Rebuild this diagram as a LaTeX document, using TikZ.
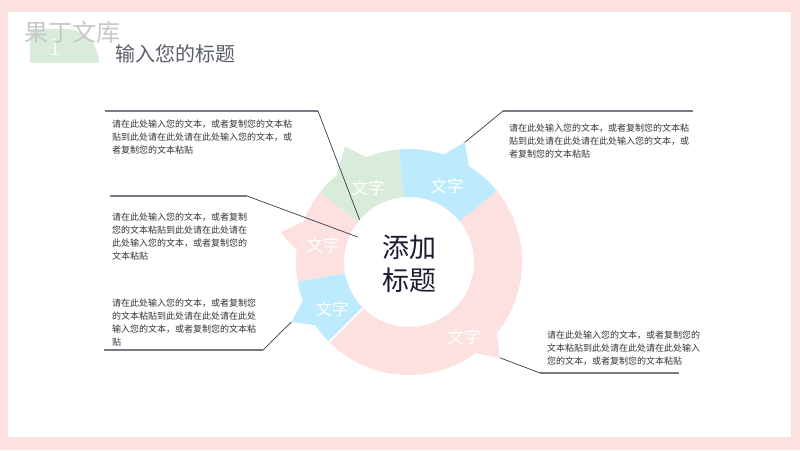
\documentclass[tikz,border=0pt]{standalone}
\usepackage{fontspec}
\newfontfamily\cjk{Noto Sans CJK SC}
\definecolor{framepink}{HTML}{FDE0E0}
\definecolor{segpink}{HTML}{FDE1E1}
\definecolor{segblue}{HTML}{BDEBFD}
\definecolor{seggreen}{HTML}{D9EBDA}
\definecolor{txt}{HTML}{333333}
\definecolor{titlec}{HTML}{5A5F6B}
\definecolor{centerc}{HTML}{1C1C33}
\definecolor{hlinec}{HTML}{7A7A85}
\definecolor{dlinec}{HTML}{3A3A4A}
\definecolor{wmark}{HTML}{C8C8C8}
\newcommand\ringseg[6]{%
  \fill[#1] (#2:65) -- (#2:113) arc[start angle=#2,end angle=#4,radius=113]
    -- (#5:132) -- (#6:113) arc[start angle=#6,end angle=#3,radius=113]
    -- (#3:65) arc[start angle=#3,end angle=#2,radius=65] -- cycle;}
\tikzset{
  desc/.style={font=\cjk\fontsize{9}{13}\selectfont, text=txt, align=left, anchor=north west, inner sep=0pt},
  seglabel/.style={font=\cjk\fontsize{16.5}{18}\selectfont, text=white, inner sep=0pt},
  hline/.style={draw=hlinec, line width=1.1pt},
  dline/.style={draw=dlinec, line width=0.7pt},
}
\begin{document}
\begin{tikzpicture}[x=1pt,y=1pt]
\useasboundingbox (0,0) rectangle (800,450);
\fill[framepink] (0,0) rectangle (800,450);
\fill[white] (8,13) rectangle (791,438);
% header
\fill[seggreen] (30,387) -- (30,421) -- (65,421) arc[start angle=90,end angle=0,radius=34] -- cycle;
\node[text=white, font=\fontsize{26}{28}\selectfont, inner sep=0pt] (num) at (55,403) {1};
\node[text=wmark, font=\cjk\fontsize{24}{26}\selectfont, anchor=west, inner sep=0pt] (wm) at (24,418) {果丁文库};
\node[text=titlec, font=\cjk\fontsize{20}{22}\selectfont, anchor=west, inner sep=0pt] (title) at (115,396) {输入您的标题};
% ring
\begin{scope}[shift={(409,188)}]
  \ringseg{segpink}{-135}{39}{-54}{-46.5}{-39}
  \ringseg{segblue}{39}{95}{58}{65}{72}
  \ringseg{seggreen}{95}{142}{112}{119}{130}
  \ringseg{segpink}{142}{190}{159}{167}{174}
  \ringseg{segblue}{190}{225}{200}{207}{214}
  \draw[white, line width=1.5pt] (225:65) -- (225:114);
  \coordinate (tipBig) at (-46.5:132);
  \coordinate (tipBlueTop) at (65:132);
  \coordinate (tipBlueLeft) at (207:132);
  \coordinate (endGreen) at (139.5:65);
  \coordinate (endPink) at (154:57);
\end{scope}
\node[font=\cjk\fontsize{27}{32.5}\selectfont, text=centerc, align=center, inner sep=0pt] (center) at (409,186) {添加\\标题};
\node[seglabel] (lgreen) at (368,262) {文字};
\node[seglabel] (lbluetop) at (447,264) {文字};
\node[seglabel] (lpinkleft) at (323,205) {文字};
\node[seglabel] (lblueleft) at (332,141) {文字};
\node[seglabel] (lbig) at (464,113) {文字};
% callouts
\coordinate (h1a) at (105,339); \coordinate (h1b) at (318,339);
\coordinate (h2a) at (110,254); \coordinate (h2b) at (247,254);
\coordinate (h3a) at (104,100); \coordinate (h3b) at (263,100);
\coordinate (h4a) at (693,339); \coordinate (h4b) at (503,339);
\coordinate (h5a) at (679,77); \coordinate (h5b) at (540,77);
\draw[hline] (h1a) -- (h1b); \draw[dline] (h1b) -- (endGreen);
\draw[hline] (h2a) -- (h2b); \draw[dline] (h2b) -- (endPink);
\draw[hline] (h3a) -- (h3b); \draw[dline] (h3b) -- (tipBlueLeft);
\draw[hline] (h4a) -- (h4b); \draw[dline] (h4b) -- (tipBlueTop);
\draw[hline] (h5a) -- (h5b); \draw[dline] (h5b) -- (tipBig);
% texts
\node[desc] (t1) at (112,330.5) {请在此处输入您的文本，或者复制您的文本粘\\贴到此处请在此处请在此处输入您的文本，或\\者复制您的文本粘贴};
\node[desc] (t2) at (112,237.5) {请在此处输入您的文本，或者复制\\您的文本粘贴到此处请在此处请在\\此处输入您的文本，或者复制您的\\文本粘贴};
\node[desc] (t3) at (112,151.5) {请在此处输入您的文本，或者复制您\\的文本粘贴到此处请在此处请在此处\\输入您的文本，或者复制您的文本粘\\贴};
\node[desc] (t4) at (509,326.5) {请在此处输入您的文本，或者复制您的文本粘\\贴到此处请在此处请在此处输入您的文本，或\\者复制您的文本粘贴};
\node[desc] (t5) at (547,119.5) {请在此处输入您的文本，或者复制您的\\文本粘贴到此处请在此处请在此处输入\\您的文本，或者复制您的文本粘贴};
\end{tikzpicture}
\end{document}
